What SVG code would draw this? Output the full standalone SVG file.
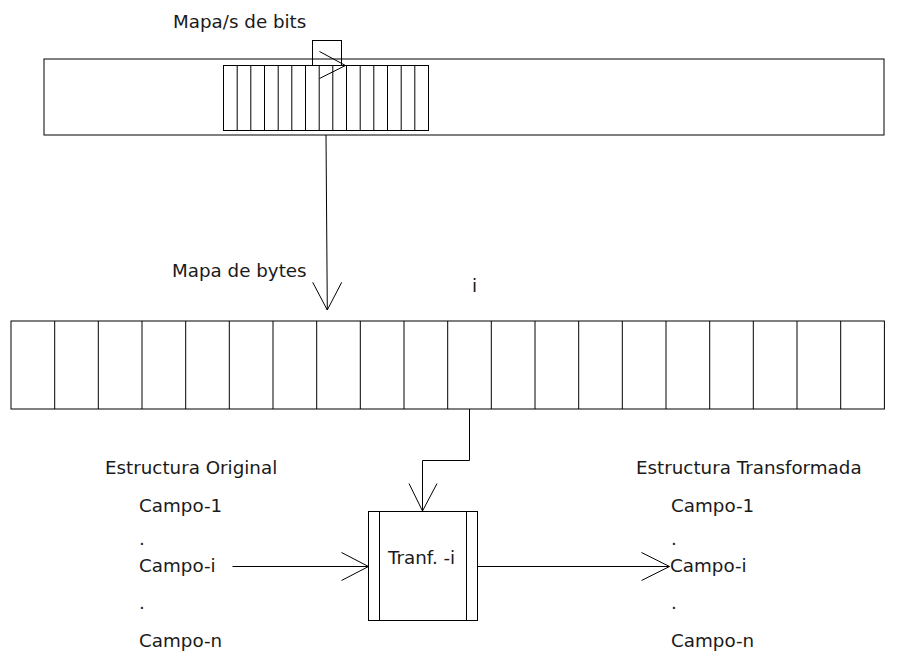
<svg xmlns="http://www.w3.org/2000/svg" width="914" height="655" viewBox="0 0 914 655">
<style>
.s{fill:none;stroke:#000;stroke-width:1}
.b{fill:#fff;stroke:#000;stroke-width:1}
text{font-family:"DejaVu Sans",sans-serif;font-size:18.3px;fill:#1a1a1a}
</style>
<rect width="914" height="655" fill="#fff"/>
<g id="memory">
<rect class="s" x="44" y="59" width="840" height="76"/>
</g>
<g id="bitmap-pointer">
<rect class="s" x="312.5" y="40.5" width="29" height="25"/>
</g>
<g id="bitmap">
<rect class="b" x="223.5" y="65.5" width="205" height="65"/>
<path class="s" d="M237.2 65.5V130.5M250.8 65.5V130.5M264.5 65.5V130.5M278.2 65.5V130.5M291.8 65.5V130.5M305.5 65.5V130.5M319.2 65.5V130.5M332.8 65.5V130.5M346.5 65.5V130.5M360.2 65.5V130.5M373.8 65.5V130.5M387.5 65.5V130.5M401.2 65.5V130.5M414.8 65.5V130.5"/>
<text x="173" y="28">Mapa/s de bits</text>
</g>
<g id="bytemap">
<rect class="s" x="11" y="321" width="873.4" height="88"/>
<path class="s" d="M54.7 321V409M98.3 321V409M142 321V409M185.7 321V409M229.3 321V409M273 321V409M316.7 321V409M360.3 321V409M404 321V409M447.7 321V409M491.3 321V409M535 321V409M578.7 321V409M622.3 321V409M666 321V409M709.7 321V409M753.3 321V409M797 321V409M840.7 321V409"/>
<text x="172" y="277">Mapa de bytes</text>
<text x="472" y="292">i</text>
</g>
<g id="transform">
<rect class="s" x="368.5" y="511.5" width="109" height="109"/>
<path class="s" d="M379.5 511.5V620.5M466.5 511.5V620.5"/>
<text x="388" y="564">Tranf. -i</text>
</g>
<g id="original">
<text x="105" y="474">Estructura Original</text>
<text x="139" y="512">Campo-1</text>
<text x="139" y="545">.</text>
<text x="139" y="572">Campo-i</text>
<text x="139" y="609">.</text>
<text x="139" y="647">Campo-n</text>
</g>
<g id="transformed">
<text x="636" y="474">Estructura Transformada</text>
<text x="671" y="512">Campo-1</text>
<text x="671" y="545">.</text>
<text x="670" y="572">Campo-i</text>
<text x="671" y="609">.</text>
<text x="671" y="647">Campo-n</text>
</g>
<g id="connectors">
<path class="s" d="M319.5 51.5L345.5 65.5L319.5 78.5"/>
<path class="s" d="M326 135L327.3 310M312.7 282.3L327.3 310L341.7 282.3"/>
<path class="s" d="M469.5 409V460.5H422.5V511M409 483.5L422.5 511L437 483.5"/>
<path class="s" d="M232.5 566.5H368.5M341.5 552.5L368.5 566.5L341.5 580.5"/>
<path class="s" d="M477.5 566.5H669.5M641.5 552.5L669.5 566.5L641.5 580.5"/>
</g>
</svg>
